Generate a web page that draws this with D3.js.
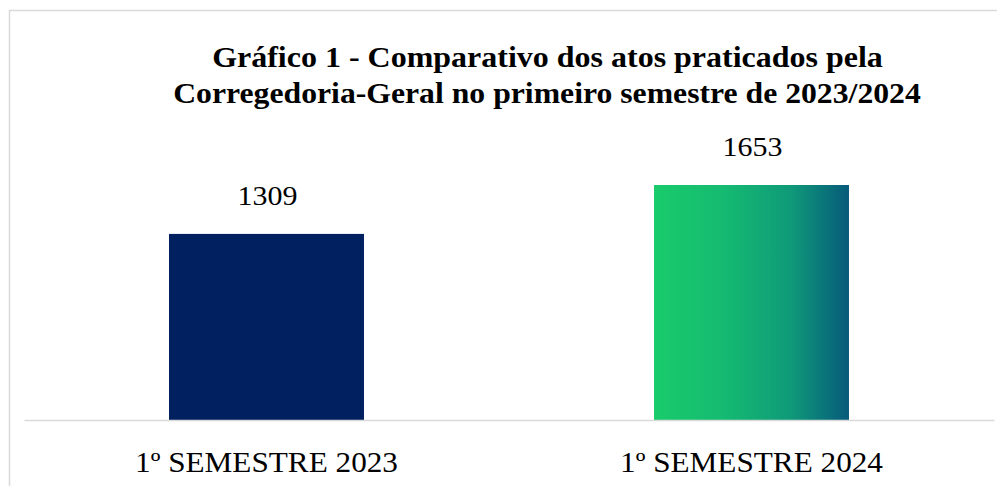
<!DOCTYPE html>
<html>
<head>
<meta charset="utf-8">
<script src="https://cdn.jsdelivr.net/npm/d3@7"></script>
<style>
  body { margin: 0; background: #fff; }
  svg { display: block; }
  svg text.lbl { font-family: "Liberation Serif"; }
</style>
</head>
<body>
<svg width="997" height="486"></svg>
<script>
const categories = ["1º SEMESTRE 2023", "1º SEMESTRE 2024"];
const values = [1309, 1653];
const titleLines = [
    "Gráfico 1 - Comparativo dos atos praticados pela",
    "Corregedoria-Geral no primeiro semestre de 2023/2024"
];

const svg = d3.select("svg");

// estica o texto na horizontal ate a largura desejada, centrado em cx
function fitText(sel, cx, width) {
    sel.each(function (d, i) {
        const t = d3.select(this);
        const w = this.getComputedTextLength();
        const c = typeof cx === "function" ? cx(d, i) : cx;
        const wd = typeof width === "function" ? width(d, i) : width;
        const k = wd / w;
        t.attr("text-anchor", "middle")
            .attr("x", 0)
            .attr("transform", `translate(${c},${t.attr("y")}) scale(${k},1)`)
            .attr("y", 0);
    });
}

// gradiente da segunda barra
const defs = svg.append("defs");
const grad = defs.append("linearGradient").attr("id", "g2024")
    .attr("x1", "0%").attr("x2", "100%").attr("y1", "0%").attr("y2", "0%");
grad.append("stop").attr("offset", "0%").attr("stop-color", "#19cb6b");
grad.append("stop").attr("offset", "35%").attr("stop-color", "#15bb71");
grad.append("stop").attr("offset", "70%").attr("stop-color", "#0f9a79");
grad.append("stop").attr("offset", "100%").attr("stop-color", "#075a7a");

// moldura
svg.append("rect")
    .attr("x", 9.5).attr("y", 10.5)
    .attr("width", 1000).attr("height", 500)
    .attr("fill", "none")
    .attr("stroke", "#d9d9d9")
    .attr("stroke-width", 1.5);

const x = d3.scaleBand()
    .domain(categories)
    .range([24, 994])
    .paddingInner(0.598)
    .paddingOuter(0.299);

const y = d3.scaleLinear()
    .domain([0, 1653])
    .range([420, 185]);

// titulo
svg.append("g").selectAll("text")
    .data(titleLines)
    .join("text")
    .attr("class", "lbl")
    .text(d => d)
    .attr("y", (d, i) => 67 + i * 36)
    .attr("font-weight", "bold")
    .attr("font-size", 30)
    .attr("fill", "#000")
    .call(fitText, (d, i) => i === 0 ? 547.5 : 547, (d, i) => i === 0 ? 671 : 748);

// barras
svg.append("g").selectAll("rect")
    .data(values)
    .join("rect")
    .attr("x", (d, i) => x(categories[i]))
    .attr("width", x.bandwidth())
    .attr("y", d => y(d))
    .attr("height", d => y(0) - y(d))
    .attr("fill", (d, i) => i === 0 ? "#002060" : "url(#g2024)");

// eixo
const axis = svg.append("g")
    .attr("transform", `translate(0,${y(0)})`)
    .call(d3.axisBottom(x).tickSize(0).tickFormat(""));
axis.select(".domain")
    .attr("stroke", "#d9d9d9")
    .attr("stroke-width", 1.5);

// rotulos das categorias
svg.append("g").selectAll("text")
    .data(categories)
    .join("text")
    .attr("class", "lbl")
    .text(d => d)
    .attr("y", 472)
    .attr("font-size", 29)
    .attr("fill", "#000")
    .call(fitText, d => x(d) + x.bandwidth() / 2, 263);

// rotulos de valores
svg.append("g").selectAll("text")
    .data(values)
    .join("text")
    .attr("class", "lbl")
    .text(d => d)
    .attr("y", d => y(d) - 29)
    .attr("font-size", 27)
    .attr("fill", "#000")
    .call(fitText, (d, i) => x(categories[i]) + x.bandwidth() / 2 + 1, 60);
</script>
</body>
</html>
